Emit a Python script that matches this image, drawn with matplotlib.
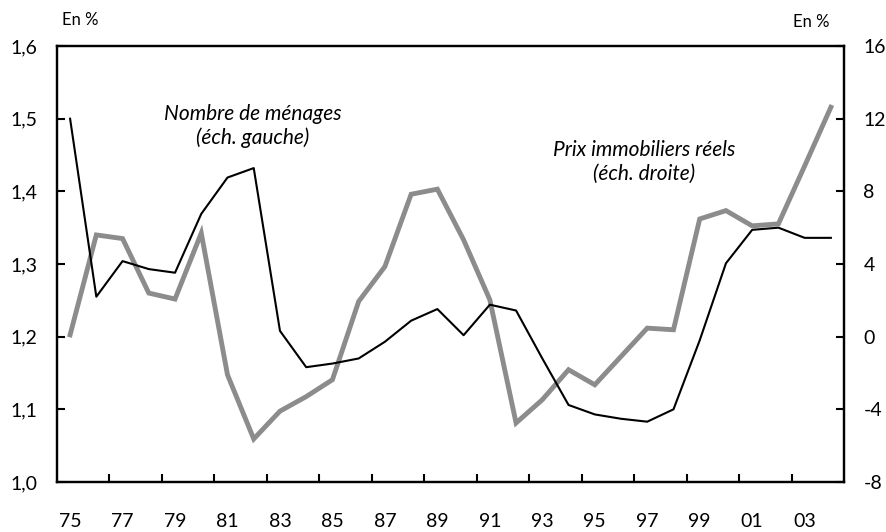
import numpy as np
import matplotlib
matplotlib.use("Agg")
import matplotlib.pyplot as plt

plt.rcParams['font.family'] = ['Lato', 'DejaVu Sans']

years = list(range(1975, 2005))
menages = [1.500, 1.255, 1.304, 1.293, 1.288, 1.369, 1.419, 1.432, 1.208, 1.158,
           1.163, 1.170, 1.193, 1.222, 1.238, 1.202, 1.244, 1.236, 1.170, 1.106,
           1.093, 1.087, 1.083, 1.100, 1.195, 1.301, 1.347, 1.350, 1.336, 1.336]
prix = [0.1, 5.6, 5.4, 2.4, 2.07, 5.7, -2.1, -5.63, -4.1, -3.3,
        -2.37, 1.94, 3.86, 7.84, 8.12, 5.33, 2.03, -4.75, -3.47, -1.82,
        -2.65, -1.09, 0.47, 0.38, 6.48, 6.94, 6.10, 6.21, 9.4, 12.63]
x_labels = ['75', '77', '79', '81', '83', '85', '87', '89', '91', '93', '95', '97', '99', '01', '03']
left_ticks = [1.0, 1.1, 1.2, 1.3, 1.4, 1.5, 1.6]
left_labels = ['1,0', '1,1', '1,2', '1,3', '1,4', '1,5', '1,6']
right_ticks = [-8, -4, 0, 4, 8, 12, 16]

fig = plt.figure(figsize=(8.86, 5.32), dpi=100)
ax = fig.add_axes([0.0643, 0.094, 0.8883, 0.8195])
ax2 = ax.twinx()

x = np.arange(len(years))
ax2.plot(x, prix, color='#8c8c8c', lw=3.5, solid_joinstyle='miter', zorder=2)
ax.plot(x, menages, color='black', lw=1.5, zorder=3)
ax.set_zorder(ax2.get_zorder() + 1)
ax.patch.set_visible(False)

ax.set_xlim(-0.5, len(years) - 0.5)
ax.set_ylim(1.0, 1.6)
ax2.set_ylim(-8, 16)

ax.set_xticks(x[::2])
ax.set_xticklabels(x_labels)
ax.set_xticks(np.arange(1.5, len(years) - 1, 2), minor=True)
ax.tick_params(axis='x', which='major', length=0, pad=22, labelsize=14)
ax.tick_params(axis='x', which='minor', length=6, width=1.5, direction='in')

ax.set_yticks(left_ticks)
ax.set_yticklabels(left_labels)
ax.tick_params(axis='y', length=6, width=1.5, direction='in', pad=14, labelsize=14)
ax2.set_yticks(right_ticks)
ax2.set_yticklabels([str(v) for v in right_ticks])
ax2.tick_params(axis='y', length=6, width=1.5, direction='in', pad=14, labelsize=14)

for a in (ax, ax2):
    for s in a.spines.values():
        s.set_linewidth(1.6)

fig.text(80 / 886, 1 - 20 / 532, 'En %', fontsize=12, ha='center', va='center')
fig.text(811 / 886, 1 - 22 / 532, 'En %', fontsize=12, ha='center', va='center')

ax.text(253 / 886, 1 - 126 / 532, 'Nombre de ménages\n(éch. gauche)', transform=fig.transFigure,
        fontsize=15, style='italic', ha='center', va='center', linespacing=1.2)
ax.text(644 / 886, 1 - 162 / 532, 'Prix immobiliers réels\n(éch. droite)', transform=fig.transFigure,
        fontsize=15, style='italic', ha='center', va='center', linespacing=1.2)

fig.savefig('out.png', dpi=100)
